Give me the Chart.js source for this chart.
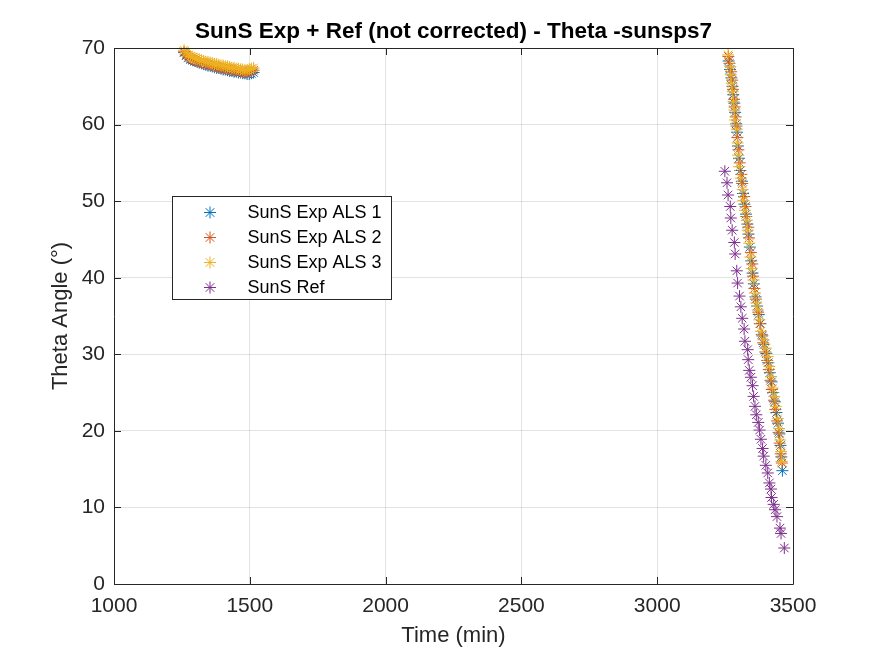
<!DOCTYPE html>
<html>
<head>
<meta charset="utf-8">
<script src="https://cdn.jsdelivr.net/npm/chart.js@4.4.1/dist/chart.umd.min.js"></script>
<style>
  html, body { margin: 0; padding: 0; background: #fff; }
</style>
</head>
<body>
<canvas id="thetaChart" width="875" height="656"></canvas>
<script>
// Series labels
const seriesNames = ['SunS Exp ALS 1', 'SunS Exp ALS 2', 'SunS Exp ALS 3', 'SunS Ref'];
const seriesColors = ['#0072BD', '#D95319', '#EDB120', '#7E2F8E'];

// Axis ticks
const xTicks = [1000, 1500, 2000, 2500, 3000, 3500];
const yTicks = [0, 10, 20, 30, 40, 50, 60, 70];

// First pass (time in min), shared by the three exp sensors
const timeFirst = [1258, 1266, 1274, 1282, 1290, 1298, 1306, 1314, 1322, 1330, 1338, 1346, 1354, 1362, 1370, 1378, 1386,
  1394, 1402, 1410, 1418, 1426, 1434, 1442, 1450, 1458, 1466, 1474, 1482, 1490, 1498, 1506, 1514];
const als1First = [69.4, 69.0, 68.7, 68.5, 68.4, 68.3, 68.2, 68.1, 68.0, 67.9, 67.8, 67.7, 67.7, 67.6, 67.5, 67.4, 67.4,
  67.3, 67.2, 67.2, 67.1, 67.0, 67.0, 66.9, 66.9, 66.8, 66.8, 66.7, 66.7, 66.6, 66.6, 66.7, 66.8];
const als2First = [69.5, 69.1, 68.8, 68.6, 68.5, 68.4, 68.3, 68.2, 68.1, 68.0, 67.9, 67.9, 67.8, 67.7, 67.6, 67.6, 67.5,
  67.4, 67.4, 67.3, 67.3, 67.2, 67.1, 67.1, 67.0, 67.0, 66.9, 66.9, 66.8, 66.8, 66.9, 67.0, 67.1];
const als3First = [69.7, 69.4, 69.1, 68.9, 68.8, 68.7, 68.6, 68.5, 68.4, 68.3, 68.2, 68.2, 68.1, 68.0, 67.9, 67.9, 67.8,
  67.7, 67.7, 67.6, 67.6, 67.5, 67.4, 67.4, 67.3, 67.3, 67.2, 67.2, 67.1, 67.1, 67.2, 67.3, 67.4];

// Second pass
const als1Time = [3263, 3268, 3273, 3277, 3280, 3284, 3287, 3291, 3294, 3297, 3301, 3306, 3312, 3316, 3321, 3327, 3332, 3336,
  3341, 3346, 3351, 3356, 3362, 3368, 3374, 3380, 3387, 3394, 3402, 3409, 3415, 3421, 3427, 3433, 3439, 3445, 3450, 3454, 3457, 3461];
const als1Theta = [68.3, 67.2, 66.1, 65.0, 63.9, 62.8, 61.6, 60.1, 59.0, 57.2, 55.6, 54.0, 52.6, 51.0, 49.6, 48.3, 47.0, 45.7,
  44.0, 42.2, 40.6, 39.2, 37.5, 36.3, 35.2, 34.0, 32.4, 31.3, 30.1, 28.9, 27.6, 26.4, 25.0, 23.8, 22.4, 21.0, 19.6, 18.1, 16.6, 14.8];

const als2Time = [3262, 3266, 3272, 3276, 3279, 3283, 3285, 3289, 3292, 3295, 3299, 3304, 3310, 3313, 3320, 3325, 3328, 3335,
  3338, 3345, 3350, 3353, 3358, 3363, 3372, 3378, 3385, 3390, 3398, 3405, 3411, 3417, 3422, 3430, 3435, 3441, 3447, 3451, 3455, 3459];
const als2Theta = [68.9, 68.0, 66.9, 65.8, 64.6, 63.3, 62.3, 61.0, 59.8, 58.3, 56.7, 55.0, 53.5, 52.3, 50.6, 49.3, 48.0, 46.6,
  45.2, 43.3, 41.8, 40.2, 38.6, 37.2, 35.5, 34.0, 32.6, 31.5, 30.3, 29.2, 28.0, 26.6, 25.4, 24.0, 22.8, 21.3, 19.8, 18.4, 17.0, 15.8];

const als3Time = [3261, 3269, 3271, 3274, 3278, 3281, 3284, 3286, 3293, 3296, 3298, 3302, 3308, 3315, 3318, 3323, 3330, 3333,
  3339, 3343, 3348, 3355, 3360, 3365, 3370, 3376, 3382, 3392, 3400, 3407, 3413, 3419, 3425, 3431, 3437, 3444, 3449, 3453, 3456, 3458];
const als3Theta = [69.1, 67.6, 66.5, 65.4, 64.3, 63.0, 61.9, 60.6, 59.4, 57.6, 56.0, 54.5, 53.0, 51.5, 50.1, 48.8, 47.5, 46.2,
  44.5, 42.7, 41.2, 39.7, 38.0, 36.7, 35.8, 34.5, 33.0, 31.9, 30.8, 29.7, 28.4, 27.1, 25.6, 24.5, 23.2, 21.6, 20.3, 18.8, 17.3, 16.0];

// Reference sensor
const refTime = [3249, 3257, 3261, 3269, 3271, 3276, 3284, 3287, 3293, 3296, 3303, 3308, 3313, 3320, 3323, 3333, 3335, 3339,
  3345, 3351, 3355, 3360, 3365, 3372, 3377, 3382, 3388, 3392, 3400, 3407, 3413, 3419, 3421, 3429, 3434, 3441, 3452, 3456, 3468];
const refTheta = [53.9, 52.4, 50.8, 49.3, 47.8, 46.2, 44.6, 43.1, 40.9, 39.3, 37.6, 36.2, 34.7, 33.3, 31.7, 30.6, 29.3, 27.9,
  27.0, 25.9, 24.5, 23.2, 22.1, 21.1, 20.1, 18.9, 17.7, 16.7, 15.5, 14.5, 13.2, 12.4, 11.3, 10.4, 9.7, 8.8, 7.3, 6.6, 4.7];

const FONT = "'Liberation Sans', Arial, sans-serif";
const AXIS = '#262626';

function points(ts, vs) {
  return ts.map((t, i) => ({ x: t, y: vs[i] }));
}

const seriesData = [
  points(timeFirst, als1First).concat(points(als1Time, als1Theta)),
  points(timeFirst, als2First).concat(points(als2Time, als2Theta)),
  points(timeFirst, als3First).concat(points(als3Time, als3Theta)),
  points(refTime, refTheta)
];

// MATLAB style asterisk marker
function asterisk(ctx, cx, cy, r, color) {
  const d = r * 0.72;
  ctx.strokeStyle = color;
  ctx.lineWidth = 1;
  ctx.beginPath();
  ctx.moveTo(cx - r, cy); ctx.lineTo(cx + r, cy);
  ctx.moveTo(cx, cy - r); ctx.lineTo(cx, cy + r);
  ctx.moveTo(cx - d, cy - d); ctx.lineTo(cx + d, cy + d);
  ctx.moveTo(cx - d, cy + d); ctx.lineTo(cx + d, cy - d);
  ctx.stroke();
}

// box, inward ticks and legend drawn on top of the data
const matlabFrame = {
  id: 'matlabFrame',
  afterDatasetsDraw(chart) {
    const { ctx, chartArea: a, scales: { x, y } } = chart;
    const tl = 7;
    ctx.save();
    ctx.strokeStyle = AXIS;
    ctx.lineWidth = 1;
    ctx.beginPath();
    ctx.rect(a.left + 0.5, a.top + 0.5, a.right - a.left, a.bottom - a.top);
    xTicks.forEach(v => {
      const px = Math.round(x.getPixelForValue(v)) + 0.5;
      ctx.moveTo(px, a.bottom); ctx.lineTo(px, a.bottom - tl);
      ctx.moveTo(px, a.top); ctx.lineTo(px, a.top + tl);
    });
    yTicks.forEach(v => {
      const py = Math.round(y.getPixelForValue(v)) + 0.5;
      ctx.moveTo(a.left, py); ctx.lineTo(a.left + tl, py);
      ctx.moveTo(a.right, py); ctx.lineTo(a.right - tl, py);
    });
    ctx.stroke();

    // legend
    const lx = 172.5, ly = 196.5, lw = 219, lh = 103;
    ctx.fillStyle = '#fff';
    ctx.fillRect(lx, ly, lw, lh);
    ctx.strokeStyle = AXIS;
    ctx.strokeRect(lx, ly, lw, lh);
    ctx.font = '18px ' + FONT;
    ctx.textBaseline = 'middle';
    ctx.textAlign = 'left';
    chart.data.datasets.forEach((ds, i) => {
      const ry = 212.5 + i * 25;
      asterisk(ctx, 210, ry, 6, ds.borderColor);
      ctx.fillStyle = '#000';
      ctx.fillText(ds.label, 247.5, ry + 1);
    });
    ctx.restore();
  }
};

const ctx = document.getElementById('thetaChart').getContext('2d');
new Chart(ctx, {
  type: 'scatter',
  data: {
    datasets: seriesNames.map((name, i) => ({
      label: name,
      data: seriesData[i],
      borderColor: seriesColors[i],
      backgroundColor: seriesColors[i],
      pointStyle: 'star',
      pointRadius: 6,
      pointHoverRadius: 6,
      borderWidth: 1,
      showLine: false,
      clip: false,
      order: 4 - i
    }))
  },
  options: {
    responsive: false,
    animation: false,
    events: [],
    layout: { padding: { left: 0, right: 82, top: 0, bottom: 0 } },
    plugins: {
      legend: { display: false },
      tooltip: { enabled: false },
      title: {
        display: true,
        fullSize: false,
        text: 'SunS Exp + Ref (not corrected) - Theta -sunsps7',
        color: '#000',
        font: { family: FONT, size: 22.5, weight: 'bold', lineHeight: 1.2 },
        padding: { top: 18, bottom: 3 }
      }
    },
    scales: {
      x: {
        type: 'linear',
        min: 1000,
        max: 3500,
        afterBuildTicks: s => { s.ticks = xTicks.map(v => ({ value: v })); },
        afterFit: s => { s.height = 72; },
        grid: { color: 'rgba(38,38,38,0.13)', drawTicks: false },
        border: { display: false },
        ticks: {
          color: AXIS,
          padding: 10,
          maxRotation: 0,
          font: { family: FONT, size: 21 },
          callback: v => String(v)
        },
        title: {
          display: true,
          text: 'Time (min)',
          color: AXIS,
          font: { family: FONT, size: 22, lineHeight: 1.2 },
          padding: { top: 0, bottom: 6.8 }
        }
      },
      y: {
        type: 'linear',
        min: 0,
        max: 70,
        afterBuildTicks: s => { s.ticks = yTicks.map(v => ({ value: v })); },
        afterFit: s => { s.width = 114; },
        grid: { color: 'rgba(38,38,38,0.13)', drawTicks: false },
        border: { display: false },
        ticks: {
          color: AXIS,
          padding: 9,
          font: { family: FONT, size: 21 },
          callback: v => String(v)
        },
        title: {
          display: true,
          text: 'Theta Angle (°)',
          color: AXIS,
          font: { family: FONT, size: 22, lineHeight: 1.2 },
          padding: { top: 47.8, bottom: 0 }
        }
      }
    }
  },
  plugins: [matlabFrame]
});
</script>
</body>
</html>
